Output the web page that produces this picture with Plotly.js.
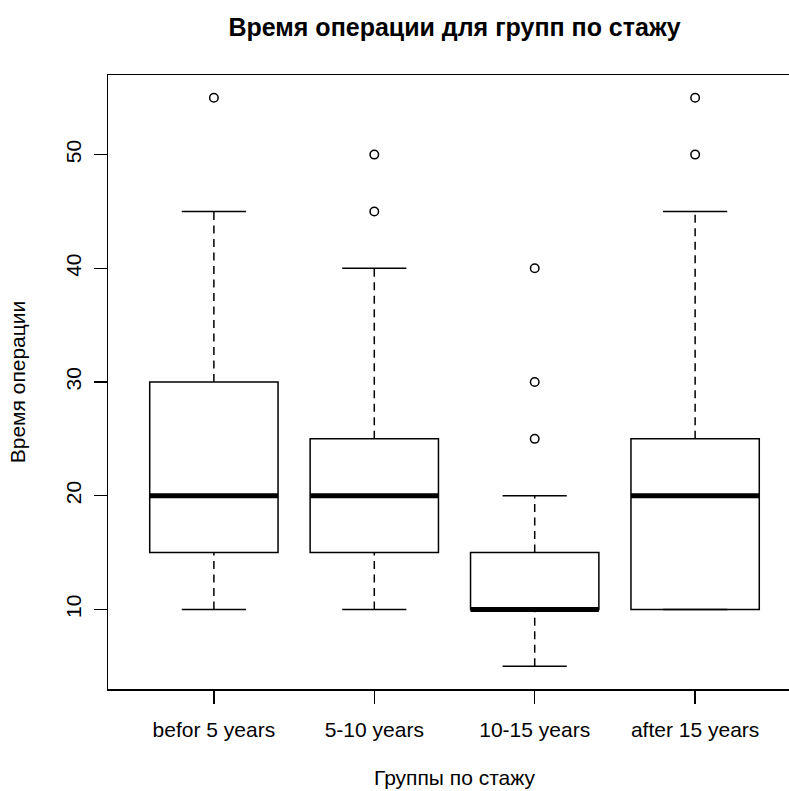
<!DOCTYPE html>
<html>
<head>
<meta charset="utf-8">
<script src="https://cdn.plot.ly/plotly-3.0.1.min.js"></script>
<style>
html,body{margin:0;padding:0;overflow:hidden;background:#fff;}
#chart{width:805px;height:791px;}
</style>
</head>
<body>
<div id="chart"></div>
<script>
// ---- data ----
const categories = ["befor 5 years", "5-10 years", "10-15 years", "after 15 years"];
const positions = [1, 2, 3, 4];
const lowerWhisker = [10, 10, 5, 10];
const q1 = [15, 15, 10, 10];
const median = [20, 20, 10, 20];
const q3 = [30, 25, 15, 25];
const upperWhisker = [45, 40, 20, 45];
const outliers = [[55], [45, 50], [25, 30, 40], [50, 55]];
const yTicks = [10, 20, 30, 40, 50];

const title = "Время операции для групп по стажу";
const xTitle = "Группы по стажу";
const yTitle = "Время операции";

// ---- styles ----
const BOXW = 0.8, STAPLE = 0.4;
const FONT = "Liberation Sans, Arial, sans-serif";
const LW = 1.5;
const FS = 21;

function segs(xa, xb, ya, yb) {
  const X = [], Y = [];
  for (let i = 0; i < positions.length; i++) {
    X.push(xa(i), xb(i), null);
    Y.push(ya(i), yb(i), null);
  }
  return {X, Y};
}

const traces = [];

// boxes (whiskers drawn separately, dashed as in R)
traces.push({
  type: "box",
  x: positions,
  q1: q1, median: median, q3: q3,
  lowerfence: q1, upperfence: q3,
  width: BOXW,
  whiskerwidth: 0,
  fillcolor: "rgba(0,0,0,0)",
  line: {color: "#000", width: LW},
  boxpoints: false,
  hoverinfo: "skip",
  showlegend: false
});

// dashed whiskers
const wl = segs(i => positions[i], i => positions[i], i => lowerWhisker[i], i => q1[i]);
const wu = segs(i => positions[i], i => positions[i], i => q3[i], i => upperWhisker[i]);
traces.push({
  type: "scatter", mode: "lines",
  x: wl.X.concat(wu.X), y: wl.Y.concat(wu.Y),
  line: {color: "#000", width: LW, dash: "8px,5.5px"},
  connectgaps: false, hoverinfo: "skip", showlegend: false
});

// staples
const sl = segs(i => positions[i] - STAPLE / 2, i => positions[i] + STAPLE / 2, i => lowerWhisker[i], i => lowerWhisker[i]);
const su = segs(i => positions[i] - STAPLE / 2, i => positions[i] + STAPLE / 2, i => upperWhisker[i], i => upperWhisker[i]);
traces.push({
  type: "scatter", mode: "lines",
  x: sl.X.concat(su.X), y: sl.Y.concat(su.Y),
  line: {color: "#000", width: LW},
  connectgaps: false, hoverinfo: "skip", showlegend: false
});

// thick medians
const md = segs(i => positions[i] - BOXW / 2, i => positions[i] + BOXW / 2, i => median[i], i => median[i]);
traces.push({
  type: "scatter", mode: "lines",
  x: md.X, y: md.Y,
  line: {color: "#000", width: 5},
  connectgaps: false, hoverinfo: "skip", showlegend: false
});

// outliers
const ox = [], oy = [];
outliers.forEach((arr, i) => arr.forEach(v => { ox.push(positions[i]); oy.push(v); }));
traces.push({
  type: "scatter", mode: "markers",
  x: ox, y: oy,
  marker: {symbol: "circle-open", size: 8.5, color: "#000", line: {width: LW}},
  hoverinfo: "skip", showlegend: false
});

const layout = {
  width: 805, height: 791,
  margin: {l: 108, r: 4, t: 75, b: 102},
  paper_bgcolor: "#fff", plot_bgcolor: "#fff",
  font: {family: FONT, size: FS, color: "#000"},
  title: {
    text: "<b>" + title + "</b>",
    font: {family: FONT, size: 25, color: "#000"},
    x: 0.5, xref: "paper", xanchor: "center",
    y: 1 - 27 / 791, yref: "container", yanchor: "middle"
  },
  xaxis: {
    range: [0.34, 4.66],
    tickmode: "array", tickvals: positions, ticktext: categories,
    ticks: "outside", ticklen: 13, tickwidth: LW, tickcolor: "#000",
    ticklabelstandoff: 8,
    showline: true, linecolor: "#000", linewidth: LW, mirror: true,
    showgrid: false, zeroline: false,
    tickfont: {family: FONT, size: FS, color: "#000"},
    title: {text: xTitle, font: {family: FONT, size: FS, color: "#000"}, standoff: 30}
  },
  yaxis: {
    range: [3, 57],
    tickmode: "array", tickvals: yTicks,
    ticks: "outside", ticklen: 13, tickwidth: LW, tickcolor: "#000",
    tickangle: -90,
    ticklabelstandoff: 4,
    showline: true, linecolor: "#000", linewidth: LW, mirror: true,
    showgrid: false, zeroline: false,
    tickfont: {family: FONT, size: FS, color: "#000"},
    title: {text: yTitle, font: {family: FONT, size: FS, color: "#000"}, standoff: 30}
  }
};

Plotly.newPlot("chart", traces, layout, {displayModeBar: false, staticPlot: true});
</script>
</body>
</html>
